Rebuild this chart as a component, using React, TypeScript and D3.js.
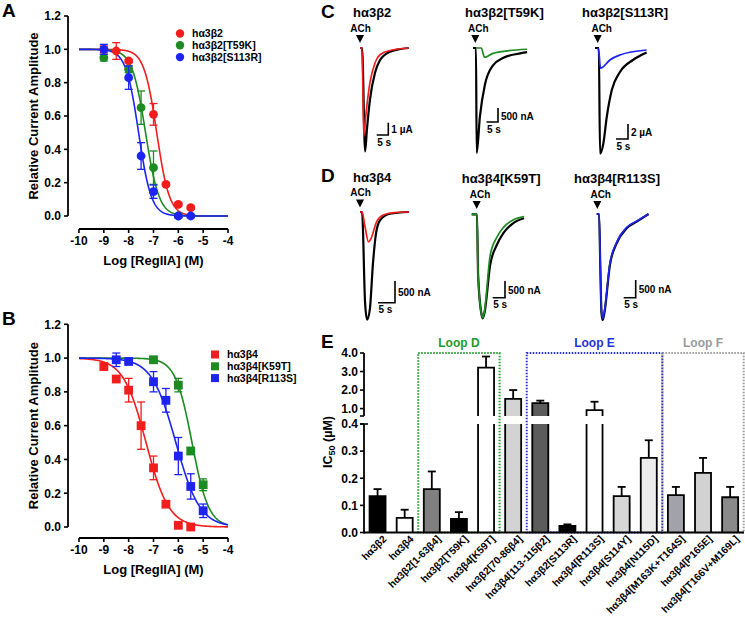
import React from 'react';
import * as d3 from 'd3';

const FONT = '"Liberation Sans", Arial, Helvetica, sans-serif';

// ---------- Panel A / B (dose response) ----------
const drXTicks = [-10, -9, -8, -7, -6, -5, -4];
const drYTicks = [0, 0.2, 0.4, 0.6, 0.8, 1.0, 1.2];
const seriesColors = ['#f21d1d', '#1d8a22', '#1d24f0'];

const namesA = ['hα3β2', 'hα3β2[T59K]', 'hα3β2[S113R]'];
const aWtX = [-9, -8.5, -8, -7, -6.5, -6, -5.5];
const aWtY = [1.0, 0.99, 0.93, 0.61, 0.19, 0.07, 0.05];
const aWtE = [0.02, 0.05, 0.01, 0.065, 0.01, 0.01, 0.01];
const aT59KX = [-9, -8, -7.5, -7, -6];
const aT59KY = [0.95, 0.88, 0.65, 0.29, 0.0];
const aT59KE = [0.02, 0.02, 0.1, 0.1, 0.01];
const aS113RX = [-9, -8, -7.5, -7, -6, -5.5];
const aS113RY = [1.0, 0.83, 0.36, 0.146, 0.0, 0.0];
const aS113RE = [0.03, 0.07, 0.08, 0.04, 0.01, 0.01];
const aFitLogIC50 = [-6.87, -7.32, -7.6];
const aFitHill = [1.7, 1.6, 1.7];

const namesB = ['hα3β4', 'hα3β4[K59T]', 'hα3β4[R113S]'];
const bWtX = [-9, -8.5, -8, -7.5, -7, -6.5, -6, -5.5];
const bWtY = [0.95, 0.876, 0.81, 0.6, 0.35, 0.135, 0.01, 0.0];
const bWtE = [0.02, 0.01, 0.07, 0.14, 0.07, 0.01, 0.01, 0.01];
const bK59TX = [-7, -6, -5.5, -5];
const bK59TY = [0.99, 0.84, 0.45, 0.25];
const bK59TE = [0.01, 0.04, 0.02, 0.035];
const bR113SX = [-8.5, -8, -7, -6.5, -6, -5.5, -5];
const bR113SY = [0.99, 0.98, 0.86, 0.75, 0.42, 0.24, 0.096];
const bR113SE = [0.04, 0.01, 0.06, 0.07, 0.11, 0.075, 0.04];
const bFitLogIC50 = [-7.3, -5.45, -6.1];
const bFitHill = [0.95, 1.3, 0.9];

// ---------- Panels C / D (current traces) ----------
type Pt = [number, number];
const cWtBlack: Pt[] = [[0, 0], [0.9, 0], [2.2, -8.4], [3.0, -6.6], [4.3, -4.2], [6.5, -2.0], [8.6, -1.0], [12.9, -0.3], [17, -0.1], [21, 0]];
const cWtRed: Pt[] = [[0, 0], [0.9, 0], [1.6, -7.2], [2.5, -5.5], [4.3, -2.8], [6.5, -1.2], [8.6, -0.55], [12.9, -0.2], [21, 0]];
const cT59KBlack: Pt[] = [[0, 0], [1.3, 0], [1.6, -3750], [3.0, -2450], [5.2, -1300], [8.7, -620], [13, -360], [20, -200], [23.5, -150]];
const cT59KGreen: Pt[] = [[1.3, 0], [3.6, 0], [5.0, -330], [6.5, -290], [8.7, -190], [15.7, -95], [23.5, -45]];
const cS113RBlack: Pt[] = [[0, 0], [1.6, 0], [2.1, -14.1], [3.5, -12.7], [4.9, -9.2], [7, -5.6], [10.4, -3.2], [15.8, -1.6], [21.5, -0.6]];
const cS113RBlue: Pt[] = [[1.2, 0], [1.6, -0.5], [2.3, -2.7], [3.0, -2.6], [6.2, -1.6], [10.4, -0.93], [21.5, -0.27]];
const dWtBlack: Pt[] = [[0, 0], [0.6, 0], [1.5, -2100], [2.1, -2480], [2.9, -2240], [3.8, -1200], [4.7, -500], [5.9, -190], [8.8, -40], [14.4, 0]];
const dWtRed: Pt[] = [[0, 0], [0.6, 0], [1.5, -350], [2.5, -690], [3.2, -620], [4.9, -224], [6.8, -70], [10, -15], [14.4, 0]];
const dK59TBlack: Pt[] = [[0, 0], [2.15, 0], [2.6, -1800], [4.0, -3000], [4.5, -3115], [5.2, -2950], [7.5, -1520], [10.2, -920], [12.8, -570], [16.8, -270], [21.3, -120]];
const dK59TGreen: Pt[] = [[0, 0], [2.15, 0], [2.6, -1800], [4.0, -3000], [4.5, -3100], [5.2, -2900], [7.5, -1230], [10.2, -690], [12.8, -400], [16.8, -170], [21.3, -70]];
const dR113SBlack: Pt[] = [[0, 0], [1.0, 0], [1.5, -1500], [2.0, -2800], [2.5, -2995], [3.2, -2800], [5.5, -1440], [8.3, -830], [12.5, -400], [16.7, -215], [21.6, 0]];
const dR113SBlue: Pt[] = [[0, 0], [1.0, 0], [1.5, -1450], [2.0, -2750], [2.5, -2950], [3.2, -2750], [5.5, -1400], [8.3, -800], [12.5, -380], [16.7, -200], [21.6, 0]];
const traceTitles = ['hα3β2', 'hα3β2[T59K]', 'hα3β2[S113R]', 'hα3β4', 'hα3β4[K59T]', 'hα3β4[R113S]'];
const scaleAmps = [1, 500, 2, 500, 500, 500];
const scaleLabels = ['1 µA', '500 nA', '2 µA', '500 nA', '500 nA', '500 nA'];
const scaleTime = 5;

// ---------- Panel E (IC50 bars) ----------
const eCategories = ['hα3β2', 'hα3β4', 'hα3β2[1-63β4]', 'hα3β2[T59K]', 'hα3β4[K59T]', 'hα3β2[70-86β4]', 'hα3β4[113-115β2]', 'hα3β2[S113R]', 'hα3β4[R113S]', 'hα3β4[S114Y]', 'hα3β4[N115D]', 'hα3β4[M163K+T164S]', 'hα3β4[P165E]', 'hα3β4[T166V+M169L]'];
const eValues = [0.134, 0.054, 0.16, 0.05, 3.21, 1.52, 1.29, 0.024, 0.92, 0.134, 0.275, 0.138, 0.22, 0.13];
const eErrors = [0.026, 0.03, 0.065, 0.025, 0.6, 0.48, 0.14, 0.006, 0.45, 0.034, 0.065, 0.03, 0.055, 0.038];
const eFills = ['#000000', '#ffffff', '#808080', '#000000', '#ffffff', '#d3d3d3', '#5c5c5c', '#000000', '#ffffff', '#d6d6d6', '#ececec', '#a2a2aa', '#d2d2d2', '#8a8a8a'];
const eLowerTicks = [0, 0.1, 0.2, 0.3, 0.4];
const eUpperTicks = [1.0, 2.0, 3.0, 4.0];
const loopLabels = ['Loop D', 'Loop E', 'Loop F'];
const loopStart = [2, 6, 11];
const loopEnd = [4, 10, 13];
const loopColors = ['#1f9a2e', '#2633d6', '#9a9a9a'];

function hill(x: number, logIC50: number, n: number) {
  return 1 / (1 + Math.pow(10, n * (x - logIC50)));
}

function DosePanel(props: any) {
  const { letter, letterY, names, xs, ys, es, ic50, hillN, shape, y0, y12, axisY, legendX, legendY0, legendDy } = props;
  const x = d3.scaleLinear().domain([-10, -4]).range([79, 228]);
  const y = d3.scaleLinear().domain([0, 1.2]).range([y0, y12]);
  const curveX = d3.range(-10, -3.999, 0.02);
  return (
    <g>
      <text x={2} y={letterY} fontSize={19}>{letter}</text>
      {/* y axis */}
      <line x1={68} x2={68} y1={y(0)} y2={y(1.2)} stroke="#000" strokeWidth={1.8} />
      {drYTicks.map((t) => (
        <g key={t}>
          <line x1={64} x2={68} y1={y(t)} y2={y(t)} stroke="#000" strokeWidth={1.6} />
          <text x={61} y={y(t)} dy="0.36em" textAnchor="end" fontSize={12}>{t.toFixed(1)}</text>
        </g>
      ))}
      {/* x axis */}
      <line x1={x(-10)} x2={x(-4)} y1={axisY} y2={axisY} stroke="#000" strokeWidth={1.8} />
      {drXTicks.map((t) => (
        <g key={t}>
          <line x1={x(t)} x2={x(t)} y1={axisY} y2={axisY + 4} stroke="#000" strokeWidth={1.6} />
          <text x={x(t)} y={axisY + 16} textAnchor="middle" fontSize={12}>{t}</text>
        </g>
      ))}
      <text x={(x(-10) + x(-4)) / 2} y={axisY + 36} textAnchor="middle" fontSize={13}>Log [RegIIA] (M)</text>
      <text transform={`translate(38,${(y(0) + y(1.2)) / 2}) rotate(-90)`} textAnchor="middle" fontSize={13}>Relative Current Amplitude</text>
      {/* fits */}
      {names.map((_: string, i: number) => {
        const l = d3.line<number>().x((d) => x(d)).y((d) => y(hill(d, ic50[i], hillN[i])));
        return <path key={i} d={l(curveX) || ''} fill="none" stroke={seriesColors[i]} strokeWidth={1.6} />;
      })}
      {/* error bars & markers */}
      {names.map((_: string, i: number) => (
        <g key={i}>
          {xs[i].map((xv: number, j: number) => {
            const cx = x(xv);
            const yv = ys[i][j];
            const e = es[i][j];
            return (
              <g key={j} stroke={seriesColors[i]} strokeWidth={1.3}>
                <line x1={cx} x2={cx} y1={y(yv - e)} y2={y(yv + e)} />
                <line x1={cx - 4} x2={cx + 4} y1={y(yv - e)} y2={y(yv - e)} />
                <line x1={cx - 4} x2={cx + 4} y1={y(yv + e)} y2={y(yv + e)} />
              </g>
            );
          })}
          {xs[i].map((xv: number, j: number) =>
            shape === 'circle' ? (
              <circle key={'m' + j} cx={x(xv)} cy={y(ys[i][j])} r={4.4} fill={seriesColors[i]} />
            ) : (
              <rect key={'m' + j} x={x(xv) - 4.4} y={y(ys[i][j]) - 4.4} width={8.8} height={8.8} fill={seriesColors[i]} />
            )
          )}
        </g>
      ))}
      {/* legend */}
      {names.map((n: string, i: number) => {
        const ly = legendY0 + i * legendDy;
        return (
          <g key={'lg' + i}>
            {shape === 'circle' ? (
              <circle cx={legendX} cy={ly} r={4.2} fill={seriesColors[i]} />
            ) : (
              <rect x={legendX - 4} y={ly - 4} width={8} height={8} fill={seriesColors[i]} />
            )}
            <text x={legendX + 12} y={ly} dy="0.36em" fontSize={10.5}>{n}</text>
          </g>
        );
      })}
    </g>
  );
}

function Trace(props: any) {
  const { title, titleX, titleY, x0, base, pxPerS, pxPerUnit, black, colored, color, arrowX, achX, achY, barX, barY, amp, ampLabel } = props;
  const xs = d3.scaleLinear().domain([0, 1]).range([x0, x0 + pxPerS]);
  const ys = d3.scaleLinear().domain([0, -1]).range([base, base + pxPerUnit]);
  const line = d3.line<Pt>().x((d) => xs(d[0])).y((d) => ys(d[1])).curve(d3.curveMonotoneX);
  const vLen = ys(-amp) - ys(0);
  const hLen = xs(scaleTime) - xs(0);
  return (
    <g>
      <text x={titleX} y={titleY} dy="0.36em" fontSize={13}>{title}</text>
      <text x={achX} y={achY} dy="0.36em" textAnchor="middle" fontSize={10}>ACh</text>
      <path d={`M${arrowX - 4},${achY + 7} L${arrowX + 4},${achY + 7} L${arrowX},${achY + 15} Z`} fill="#000" />
      <path d={line(black) || ''} fill="none" stroke="#000" strokeWidth={2.2} strokeLinejoin="round" />
      <path d={line(colored) || ''} fill="none" stroke={color} strokeWidth={1.7} strokeLinejoin="round" />
      <path d={`M${barX},${barY - vLen} V${barY} H${barX - hLen}`} fill="none" stroke="#000" strokeWidth={1.6} />
      <text x={barX + 3} y={barY - vLen / 2 + 1} dy="0.36em" fontSize={10}>{ampLabel}</text>
      <text x={barX - hLen + 0.5} y={barY + 7} dy="0.36em" fontSize={10}>{scaleTime} s</text>
    </g>
  );
}

function BarPanel() {
  const xb = d3.scaleBand<string>().domain(eCategories).range([364, 743.7]).paddingInner(0.41).paddingOuter(0.205);
  const bw = xb.bandwidth();
  const gap = xb.step() - bw;
  const lower = d3.scaleLinear().domain([0, 0.4]).range([532.5, 424]);
  const upper = d3.scaleLinear().domain([0.6, 4.0]).range([416, 353]);
  const yOf = (v: number) => (v <= 0.4 ? lower(v) : upper(v));
  return (
    <g>
      <text x={321} y={348} fontSize={19}>E</text>
      {/* loops */}
      {loopLabels.map((lab, i) => {
        const x1 = (xb(eCategories[loopStart[i]]) as number) - gap / 2;
        const x2 = (xb(eCategories[loopEnd[i]]) as number) + bw + gap / 2;
        return (
          <g key={lab}>
            <rect x={x1} y={upper(4.0)} width={x2 - x1} height={lower(0) - upper(4.0)} fill="none" stroke={loopColors[i]} strokeWidth={2} strokeDasharray="1.5 1.5" />
            <text x={(x1 + x2) / 2} y={347} textAnchor="middle" fontSize={12} fill={loopColors[i]}>{lab}</text>
          </g>
        );
      })}
      {/* bars */}
      {eCategories.map((c, i) => {
        const x = xb(c) as number;
        const v = eValues[i];
        const e = eErrors[i];
        const cx = x + bw / 2;
        const top = yOf(v);
        const et = yOf(v + e);
        return (
          <g key={c}>
            {v <= 0.4 ? (
              <g>
                <rect x={x} y={top} width={bw} height={lower(0) - top} fill={eFills[i]} />
                <path d={`M${x},${lower(0)} V${top} H${x + bw} V${lower(0)}`} fill="none" stroke="#000" strokeWidth={1.8} />
              </g>
            ) : (
              <g>
                <rect x={x} y={lower(0.4)} width={bw} height={lower(0) - lower(0.4)} fill={eFills[i]} />
                <path d={`M${x},${lower(0)} V${lower(0.4)} M${x + bw},${lower(0.4)} V${lower(0)}`} fill="none" stroke="#000" strokeWidth={1.8} />
                <rect x={x} y={top} width={bw} height={upper(0.6) - top} fill={eFills[i]} />
                <path d={`M${x},${upper(0.6)} V${top} H${x + bw} V${upper(0.6)}`} fill="none" stroke="#000" strokeWidth={1.8} />
              </g>
            )}
            <line x1={cx} x2={cx} y1={top} y2={et} stroke="#000" strokeWidth={1.8} />
            <line x1={cx - 4} x2={cx + 4} y1={et} y2={et} stroke="#000" strokeWidth={1.8} />
            <text transform={`translate(${cx + 6},${536}) rotate(-45)`} textAnchor="end" dy="0.5em" fontSize={10.2}>{c}</text>
          </g>
        );
      })}
      {/* axes */}
      <line x1={364} x2={744} y1={lower(0)} y2={lower(0)} stroke="#000" strokeWidth={1.8} />
      <line x1={364} x2={364} y1={lower(0) + 0.9} y2={lower(0.4)} stroke="#000" strokeWidth={1.8} />
      <line x1={364} x2={364} y1={upper(0.6)} y2={upper(4.0)} stroke="#000" strokeWidth={1.8} />
      <line x1={360} x2={368} y1={lower(0.4)} y2={lower(0.4)} stroke="#000" strokeWidth={1.6} />
      <line x1={360} x2={364} y1={upper(0.6)} y2={upper(0.6)} stroke="#000" strokeWidth={1.6} />
      {eLowerTicks.map((t) => (
        <g key={'l' + t}>
          <line x1={360} x2={364} y1={lower(t)} y2={lower(t)} stroke="#000" strokeWidth={1.6} />
          <text x={358} y={lower(t)} dy="0.36em" textAnchor="end" fontSize={12}>{t.toFixed(1)}</text>
        </g>
      ))}
      {eUpperTicks.map((t) => (
        <g key={'u' + t}>
          <line x1={360} x2={364} y1={upper(t)} y2={upper(t)} stroke="#000" strokeWidth={1.6} />
          <text x={358} y={upper(t)} dy="0.36em" textAnchor="end" fontSize={12}>{t.toFixed(1)}</text>
        </g>
      ))}
      <text transform="translate(332,442) rotate(-90)" textAnchor="middle" fontSize={12.5}>
        IC<tspan fontSize={9} dy={3}>50</tspan><tspan dy={-3}> (µM)</tspan>
      </text>
    </g>
  );
}

export default function App() {
  return (
    <svg width={745} height={617} style={{ position: 'absolute', left: 0, top: 0, background: '#fff' }} fontFamily={FONT} fontWeight="bold">
      <rect width={745} height={617} fill="#fff" />
      <DosePanel letter="A" letterY={17} names={namesA}
        xs={[aWtX, aT59KX, aS113RX]} ys={[aWtY, aT59KY, aS113RY]} es={[aWtE, aT59KE, aS113RE]}
        ic50={aFitLogIC50} hillN={aFitHill} shape="circle" y0={216} y12={16} axisY={229}
        legendX={180} legendY0={33.5} legendDy={11.8} />
      <DosePanel letter="B" letterY={325} names={namesB}
        xs={[bWtX, bK59TX, bR113SX]} ys={[bWtY, bK59TY, bR113SY]} es={[bWtE, bK59TE, bR113SE]}
        ic50={bFitLogIC50} hillN={bFitHill} shape="square" y0={527} y12={324.3} axisY={538}
        legendX={215} legendY0={354.5} legendDy={11.8} />

      <text x={321} y={18} fontSize={19}>C</text>
      <text x={321} y={182} fontSize={19}>D</text>
      <Trace title={traceTitles[0]} titleX={353} titleY={12} x0={360} base={48} pxPerS={2.32} pxPerUnit={12.3}
        black={cWtBlack} colored={cWtRed} color={seriesColors[0]} arrowX={360} achX={360.5} achY={28}
        barX={388.3} barY={135} amp={scaleAmps[0]} ampLabel={scaleLabels[0]} />
      <Trace title={traceTitles[1]} titleX={465} titleY={12} x0={473} base={48} pxPerS={2.3} pxPerUnit={0.028}
        black={cT59KBlack} colored={cT59KGreen} color={seriesColors[1]} arrowX={475.3} achX={478.3} achY={28}
        barX={498} barY={122} amp={scaleAmps[1]} ampLabel={scaleLabels[1]} />
      <Trace title={traceTitles[2]} titleX={582} titleY={12} x0={595} base={48} pxPerS={2.4} pxPerUnit={7.5}
        black={cS113RBlack} colored={cS113RBlue} color={seriesColors[2]} arrowX={597.7} achX={601.7} achY={28}
        barX={628} barY={139} amp={scaleAmps[2]} ampLabel={scaleLabels[2]} />
      <Trace title={traceTitles[3]} titleX={353} titleY={177.5} x0={360} base={212} pxPerS={3.4} pxPerUnit={0.0434}
        black={dWtBlack} colored={dWtRed} color={seriesColors[0]} arrowX={360} achX={360.5} achY={192.5}
        barX={395} barY={302.7} amp={scaleAmps[3]} ampLabel={scaleLabels[3]} />
      <Trace title={traceTitles[4]} titleX={461.7} titleY={178.5} x0={471.7} base={214.3} pxPerS={2.46} pxPerUnit={0.0334}
        black={dK59TBlack} colored={dK59TGreen} color={seriesColors[1]} arrowX={476.7} achX={480} achY={194}
        barX={505} barY={297.7} amp={scaleAmps[4]} ampLabel={scaleLabels[4]} />
      <Trace title={traceTitles[5]} titleX={574} titleY={178.5} x0={596.7} base={214} pxPerS={2.4} pxPerUnit={0.0354}
        black={dR113SBlack} colored={dR113SBlue} color={seriesColors[2]} arrowX={597.3} achX={600.7} achY={194}
        barX={635.7} barY={297.7} amp={scaleAmps[5]} ampLabel={scaleLabels[5]} />

      <BarPanel />
    </svg>
  );
}
